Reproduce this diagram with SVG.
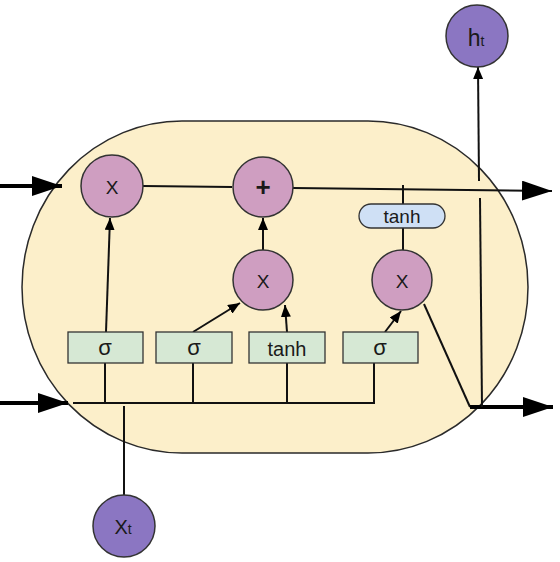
<svg xmlns="http://www.w3.org/2000/svg" width="560" height="562" viewBox="0 0 560 562">
<style>
.cell{fill:#fcefca;stroke:#2a2a2a;stroke-width:1.5}
.op{fill:#cf9ec1;stroke:#333;stroke-width:1.5}
.io{fill:#8b76c2;stroke:#333;stroke-width:1.5}
.gate{fill:#d6e8d4;stroke:#333;stroke-width:1.3}
.pill{fill:#cfe0f5;stroke:#333;stroke-width:1.3}
.t{font-family:"Liberation Sans",Arial,sans-serif;fill:#1a1a1a;text-anchor:middle}
.ln{stroke:#111;stroke-width:2;fill:none}
.thk{stroke:#000;stroke-width:4;fill:none}
</style>
<defs>
<marker id="big" markerUnits="userSpaceOnUse" markerWidth="30" markerHeight="20" refX="30" refY="10" orient="auto"><path d="M0,0 L30,10 L0,20 Z" fill="#000"/></marker>
<marker id="sm" markerUnits="userSpaceOnUse" markerWidth="12" markerHeight="10" refX="12" refY="5" orient="auto"><path d="M0,0 L12,5 L0,10 Z" fill="#000"/></marker>
</defs>
<rect id="cell" class="cell" x="22" y="121" width="506" height="332" rx="160" ry="166"/>
<g id="connectors">
<line class="thk" x1="0" y1="186" x2="62" y2="186" marker-end="url(#big)"/>
<line class="ln" x1="143" y1="186" x2="232" y2="187"/>
<line class="ln" x1="293" y1="188" x2="552" y2="191" stroke-width="2.5" marker-end="url(#big)"/>
<line class="ln" x1="403" y1="185" x2="403" y2="204"/>
<line class="ln" x1="403" y1="228" x2="403" y2="250"/>
<polyline class="ln" points="424,304 470,407"/>
<line class="thk" x1="470" y1="407" x2="553" y2="407" marker-end="url(#big)"/>
<line class="ln" x1="482" y1="407" x2="480" y2="198"/>
<line class="ln" x1="479" y1="181" x2="478" y2="67" marker-end="url(#sm)"/>
<line class="thk" x1="0" y1="403" x2="68" y2="403" marker-end="url(#big)"/>
<line class="ln" x1="73" y1="403" x2="375" y2="403" stroke-width="2.5"/>
<line class="ln" x1="105" y1="363" x2="105" y2="403"/>
<line class="ln" x1="193" y1="363" x2="193" y2="403"/>
<line class="ln" x1="287" y1="363" x2="287" y2="403"/>
<line class="ln" x1="374" y1="363" x2="374" y2="403"/>
<line class="ln" x1="124" y1="406" x2="124" y2="495"/>
<line class="ln" x1="106" y1="332" x2="110" y2="218" marker-end="url(#sm)"/>
<line class="ln" x1="193" y1="332" x2="240" y2="303" marker-end="url(#sm)"/>
<line class="ln" x1="287" y1="332" x2="285" y2="305" marker-end="url(#sm)"/>
<line class="ln" x1="385" y1="332" x2="401" y2="311" marker-end="url(#sm)"/>
<line class="ln" x1="263" y1="250" x2="263" y2="218" marker-end="url(#sm)"/>
</g>
<g id="mul1"><circle class="op" cx="112" cy="186" r="31"/><text class="t" x="112" y="194" font-size="19">X</text></g>
<g id="add"><circle class="op" cx="263" cy="187" r="30"/><text class="t" x="263" y="196" font-size="26" font-weight="bold">+</text></g>
<g id="mul2"><circle class="op" cx="263" cy="280" r="30"/><text class="t" x="263" y="288" font-size="19">X</text></g>
<g id="mul3"><circle class="op" cx="402" cy="280" r="30"/><text class="t" x="402" y="288" font-size="19">X</text></g>
<g id="ht"><circle class="io" cx="477" cy="36" r="31"/><text class="t" x="476" y="46" font-size="23">h<tspan font-size="14">t</tspan></text></g>
<g id="xt"><circle class="io" cx="124" cy="526" r="31"/><text class="t" x="123" y="534" font-size="20">X<tspan font-size="14">t</tspan></text></g>
<g id="gate1"><rect class="gate" x="68" y="332" width="75" height="31"/><text class="t" x="105" y="355" font-size="22">σ</text></g>
<g id="gate2"><rect class="gate" x="156" y="332" width="76" height="31"/><text class="t" x="194" y="355" font-size="22">σ</text></g>
<g id="gate3"><rect class="gate" x="249" y="332" width="76" height="31"/><text class="t" x="287" y="356" font-size="20">tanh</text></g>
<g id="gate4"><rect class="gate" x="343" y="332" width="75" height="31"/><text class="t" x="380" y="355" font-size="22">σ</text></g>
<g id="tanh"><rect class="pill" x="359" y="204" width="86" height="24" rx="12" ry="12"/><text class="t" x="402" y="223" font-size="19">tanh</text></g>
</svg>
